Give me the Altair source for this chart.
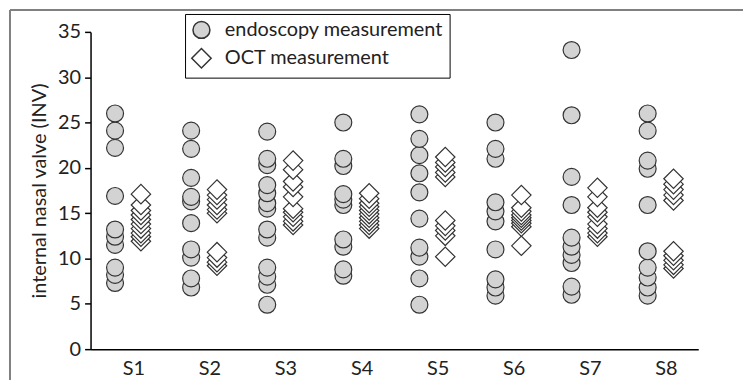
import altair as alt
import pandas as pd

subjects = ["S1", "S2", "S3", "S4", "S5", "S6", "S7", "S8"]
series_names = ["endoscopy measurement", "OCT measurement"]

endo_S1 = [26.0, 24.1, 22.2, 16.9, 13.2, 12.4, 11.5, 9.0, 8.2, 7.3]
endo_S2 = [24.1, 22.1, 18.9, 16.8, 16.3, 13.9, 11.0, 10.1, 7.8, 6.8]
endo_S3 = [24.0, 21.0, 20.3, 18.1, 17.2, 16.1, 15.5, 13.2, 12.3, 9.0, 8.0, 7.1, 4.9]
endo_S4 = [25.0, 21.0, 20.2, 17.1, 16.5, 15.9, 12.1, 11.3, 8.8, 8.1]
endo_S5 = [25.9, 23.2, 21.4, 19.4, 17.3, 14.4, 11.2, 10.2, 7.8, 4.9]
endo_S6 = [25.0, 22.1, 21.0, 16.2, 15.2, 14.1, 11.0, 7.7, 6.8, 5.9]
endo_S7 = [33.0, 25.8, 19.0, 15.9, 12.3, 11.3, 10.4, 9.5, 6.9, 6.0]
endo_S8 = [26.0, 24.1, 20.8, 19.9, 15.9, 10.8, 9.0, 7.9, 6.8, 5.9]

oct_S1 = [17.1, 15.9, 15.3, 14.8, 14.3, 13.8, 13.3, 12.8, 12.4, 11.9]
oct_S2 = [17.6, 17.0, 16.5, 15.9, 15.4, 15.0, 10.7, 10.1, 9.6, 9.2]
oct_S3 = [20.8, 19.8, 18.5, 17.9, 16.8, 15.5, 15.1, 14.6, 14.1, 13.7]
oct_S4 = [17.2, 16.6, 16.1, 15.7, 15.3, 14.9, 14.5, 14.1, 13.7, 13.3]
oct_S5 = [21.2, 20.6, 20.1, 19.5, 19.0, 14.2, 13.6, 13.1, 12.5, 10.2]
oct_S6 = [17.0, 15.6, 15.2, 14.8, 14.5, 14.2, 13.9, 13.5, 11.4]
oct_S7 = [17.8, 16.8, 15.6, 15.1, 14.6, 13.8, 13.3, 12.8, 12.4]
oct_S8 = [18.8, 18.2, 17.6, 17.0, 16.4, 10.8, 10.3, 9.8, 9.3, 8.9]

endo = [endo_S1, endo_S2, endo_S3, endo_S4, endo_S5, endo_S6, endo_S7, endo_S8]
octm = [oct_S1, oct_S2, oct_S3, oct_S4, oct_S5, oct_S6, oct_S7, oct_S8]
offsets = {series_names[0]: -0.24, series_names[1]: 0.1}

rows = []
for i, s in enumerate(subjects):
    for name, vals in ((series_names[0], endo[i]), (series_names[1], octm[i])):
        for v in vals:
            rows.append({"subject": s, "idx": i + 1, "series": name,
                         "xpos": i + 1 + offsets[name], "value": v})
df = pd.DataFrame(rows)
df["sorder"] = df["series"].map({series_names[0]: 0, series_names[1]: 1})
df = df.sort_values(["subject", "sorder", "value"]).reset_index(drop=True)

FONT = "Lato"
TXT = "#222222"

legend_props = dict(title=None, orient="none", legendX=95, legendY=-18,
                    strokeColor="black", fillColor="white", padding=6,
                    labelFont=FONT, labelFontSize=20, labelColor=TXT, labelLimit=400,
                    rowPadding=3, labelOffset=13)

points = alt.Chart(df).mark_point(filled=True, stroke="#333333", strokeWidth=1.2, opacity=1).encode(
    x=alt.X("xpos:Q",
            scale=alt.Scale(domain=[0.438, 8.425], nice=False, zero=False),
            axis=alt.Axis(values=list(range(1, 9)), labelExpr="'S' + datum.value",
                          ticks=False, title=None, grid=False, labelPadding=9,
                          domainColor="black", domainWidth=1.5,
                          labelFont=FONT, labelFontSize=20, labelColor=TXT)),
    y=alt.Y("value:Q",
            scale=alt.Scale(domain=[0, 35], nice=False, zero=True),
            axis=alt.Axis(values=list(range(0, 36, 5)), tickSize=6, tickColor="black",
                          tickWidth=1.5, domainColor="black", domainWidth=1.5,
                          grid=False, labelPadding=4,
                          labelFont=FONT, labelFontSize=20, labelColor=TXT,
                          title="internal nasal valve (INV)", titleFont=FONT,
                          titleFontSize=20, titleFontWeight="normal", titleColor=TXT,
                          titlePadding=8)),
    shape=alt.Shape("series:N",
                    scale=alt.Scale(domain=series_names, range=["circle", "diamond"]),
                    legend=alt.Legend(**legend_props)),
    fill=alt.Fill("series:N",
                  scale=alt.Scale(domain=series_names, range=["#d3d3d3", "#ffffff"]),
                  legend=alt.Legend(**legend_props)),
    size=alt.Size("series:N",
                  scale=alt.Scale(domain=series_names, range=[290, 380]),
                  legend=alt.Legend(**legend_props)),
)

frame_data = alt.Data(values=[{"a": 1}])
top_line = alt.Chart(frame_data).mark_rule(color="#808080", strokeWidth=2).encode(
    x=alt.value(-81), x2=alt.value(720), y=alt.value(-22))
left_line = alt.Chart(frame_data).mark_rule(color="#808080", strokeWidth=2).encode(
    x=alt.value(-81), y=alt.value(-22), y2=alt.value(400))

chart = alt.layer(top_line, left_line, points).properties(
    width=611, height=319,
    padding={"left": 83, "top": 23, "right": 45, "bottom": 30},
    autosize=alt.AutoSizeParams(type="none"),
).configure_view(stroke=None)

chart.save("out.html", embed_options={"renderer": "svg", "actions": False})
